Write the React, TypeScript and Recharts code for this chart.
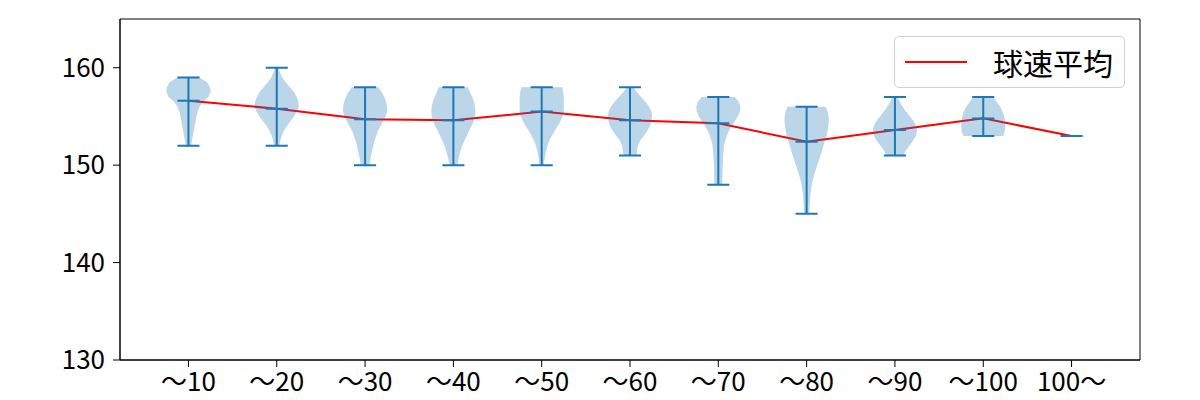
import React from 'react';
import { ComposedChart, XAxis, YAxis, Scatter, Line, Legend, ReferenceArea } from 'recharts';

const FONT = '"Noto Sans CJK JP", "Noto Sans", sans-serif';

const categories = ['～10', '～20', '～30', '～40', '～50', '～60', '～70', '～80', '～90', '～100', '100～'];
const positions = [1, 2, 3, 4, 5, 6, 7, 8, 9, 10, 11];
const meanSpeeds = [156.6, 155.8, 154.7, 154.6, 155.5, 154.6, 154.3, 152.4, 153.6, 154.8, 153.0];
const minSpeeds = [152, 152, 150, 150, 150, 151, 148, 145, 151, 153, 153];
const maxSpeeds = [159, 160, 158, 158, 158, 158, 157, 156, 157, 157, 153];
const yTicks = [130, 140, 150, 160];
const lineName = '球速平均';

// [speed, relative density]
const profile10: [number, number][] = [
  [159, 0.5], [158.5, 0.85], [158, 0.98], [157.5, 1.0], [157, 0.9], [156.5, 0.65], [156, 0.5],
  [155.5, 0.42], [155, 0.36], [154.5, 0.32], [154, 0.28], [153.5, 0.24], [153, 0.2], [152.5, 0.16], [152, 0.12],
];
const profile20: [number, number][] = [
  [160, 0.08], [159.5, 0.15], [159, 0.25], [158.5, 0.4], [158, 0.6], [157.5, 0.78], [157, 0.9], [156.5, 0.98],
  [156, 1.0], [155.5, 0.92], [155, 0.78], [154.5, 0.62], [154, 0.45], [153.5, 0.32], [153, 0.22], [152.5, 0.16], [152, 0.12],
];
const profile30: [number, number][] = [
  [158, 0.6], [157.5, 0.75], [157, 0.87], [156.5, 0.95], [156, 1.0], [155.5, 1.0], [155, 0.93], [154.5, 0.82],
  [154, 0.7], [153.5, 0.58], [153, 0.5], [152.5, 0.43], [152, 0.37], [151.5, 0.32], [151, 0.27], [150.5, 0.23], [150, 0.2],
];
const profile40: [number, number][] = [
  [158, 0.66], [157.5, 0.75], [157, 0.85], [156.5, 0.93], [156, 0.98], [155.5, 1.0], [155, 0.98], [154.5, 0.92],
  [154, 0.82], [153.5, 0.7], [153, 0.6], [152.5, 0.5], [152, 0.4], [151.5, 0.33], [151, 0.27], [150.5, 0.22], [150, 0.18],
];
const profile50: [number, number][] = [
  [158, 0.93], [157.5, 0.97], [157, 1.0], [156.5, 1.0], [156, 1.0], [155.5, 1.0], [155, 0.95], [154.5, 0.85],
  [154, 0.72], [153.5, 0.58], [153, 0.45], [152.5, 0.34], [152, 0.26], [151.5, 0.21], [151, 0.16], [150.5, 0.12], [150, 0.1],
];
const profile60: [number, number][] = [
  [158, 0.15], [157.5, 0.3], [157, 0.5], [156.5, 0.7], [156, 0.87], [155.5, 0.97], [155, 1.0], [154.5, 0.98],
  [154, 0.9], [153.5, 0.78], [153, 0.62], [152.5, 0.45], [152, 0.36], [151.5, 0.32], [151, 0.3],
];
const profile70: [number, number][] = [
  [157, 0.75], [156.5, 0.92], [156, 1.0], [155.5, 0.98], [155, 0.88], [154.5, 0.75], [154, 0.6], [153.5, 0.47],
  [153, 0.38], [152.5, 0.31], [152, 0.26], [151, 0.22], [150, 0.2], [149, 0.19], [148, 0.18],
];
const profile80: [number, number][] = [
  [156, 0.87], [155.5, 0.95], [155, 1.0], [154.5, 1.0], [154, 0.98], [153.5, 0.95], [153, 0.9], [152.5, 0.83],
  [152, 0.76], [151.5, 0.7], [151, 0.63], [150.5, 0.56], [150, 0.48], [149.5, 0.41], [149, 0.34], [148.5, 0.28],
  [148, 0.23], [147.5, 0.2], [147, 0.17], [146, 0.14], [145, 0.12],
];
const profile90: [number, number][] = [
  [157, 0.12], [156.5, 0.22], [156, 0.35], [155.5, 0.5], [155, 0.68], [154.5, 0.85], [154, 0.96], [153.5, 1.0],
  [153, 0.95], [152.5, 0.82], [152, 0.65], [151.5, 0.5], [151, 0.38],
];
const profile100: [number, number][] = [
  [157, 0.45], [156.5, 0.6], [156, 0.77], [155.5, 0.88], [155, 0.95], [154.5, 0.98], [154, 1.0], [153.5, 0.98], [153, 0.9],
];
const profileOver100: [number, number][] = [];

const profiles = [profile10, profile20, profile30, profile40, profile50, profile60, profile70, profile80, profile90, profile100, profileOver100];

const VIOLIN_HALF = 0.25;
const CAP_HALF = 0.125;
const X_DOMAIN: [number, number] = [0.225, 11.775];
const Y_DOMAIN: [number, number] = [130, 165];

function violinPolygon(pos: number, prof: [number, number][]) {
  const asc = prof.slice().sort((a, b) => a[0] - b[0]);
  const right = asc.map(([v, d]) => ({ x: pos + VIOLIN_HALF * d, y: v }));
  const left = asc.slice().reverse().map(([v, d]) => ({ x: pos - VIOLIN_HALF * d, y: v }));
  return [...right, ...left];
}

const segmentData: { x: number; y: number }[] = [];
positions.forEach((p, i) => {
  segmentData.push({ x: p, y: minSpeeds[i] }, { x: p, y: maxSpeeds[i] });
  segmentData.push({ x: p - CAP_HALF, y: minSpeeds[i] }, { x: p + CAP_HALF, y: minSpeeds[i] });
  segmentData.push({ x: p - CAP_HALF, y: maxSpeeds[i] }, { x: p + CAP_HALF, y: maxSpeeds[i] });
  segmentData.push({ x: p - CAP_HALF, y: meanSpeeds[i] }, { x: p + CAP_HALF, y: meanSpeeds[i] });
});

const meanData = positions.map((p, i) => ({ x: p, y: meanSpeeds[i] }));

const noShape = () => <g />;

const polygonLine = (props: any) => {
  const pts = props.points || [];
  if (!pts.length) return <g />;
  const d = pts.map((p: any, i: number) => `${i ? 'L' : 'M'}${p.x},${p.y}`).join('') + 'Z';
  return <path d={d} fill="#1f77b4" fillOpacity={0.3} stroke="none" />;
};

const segmentLine = (props: any) => {
  const pts = props.points || [];
  let d = '';
  for (let i = 0; i + 1 < pts.length; i += 2) {
    d += `M${pts[i].x},${pts[i].y}L${pts[i + 1].x},${pts[i + 1].y}`;
  }
  return <path d={d} stroke="#1f77b4" strokeWidth={2} fill="none" />;
};

const renderLegend = (props: any) => {
  const items = (props.payload || []).filter((p: any) => p.value === lineName);
  return (
    <div
      style={{
        boxSizing: 'border-box',
        width: 231,
        height: 52,
        border: '1px solid #d0d0d0',
        borderRadius: 5,
        background: 'rgba(255,255,255,0.8)',
        display: 'flex',
        alignItems: 'center',
        fontFamily: FONT,
      }}
    >
      {items.map((it: any) => (
        <React.Fragment key={it.value}>
          <svg width={62} height={4} style={{ marginLeft: 10, display: 'block' }}>
            <line x1={0} y1={2} x2={62} y2={2} stroke={it.color || '#ff0000'} strokeWidth={2} />
          </svg>
          <span style={{ marginLeft: 26, fontSize: 30, color: '#000', lineHeight: 1 }}>{it.value}</span>
        </React.Fragment>
      ))}
    </div>
  );
};

export default function App() {
  return (
    <div style={{ width: 1192, height: 392, fontFamily: FONT }}>
      <ComposedChart width={1192} height={392} margin={{ top: 11, right: 60, bottom: 0, left: 0 }}>
        <XAxis
          type="number"
          dataKey="x"
          domain={X_DOMAIN}
          allowDataOverflow
          ticks={positions}
          interval={0}
          tickFormatter={(v: number) => categories[Math.round(v) - 1] ?? ''}
          height={40}
          tickSize={7}
          tickMargin={6}
          stroke="#000"
          tick={{ fontSize: 26, fill: '#000', fontFamily: FONT }}
          tickLine={{ stroke: '#000' }}
        />
        <YAxis
          type="number"
          dataKey="y"
          domain={Y_DOMAIN}
          allowDataOverflow
          ticks={yTicks}
          interval={0}
          width={112}
          tickSize={7}
          tickMargin={8}
          stroke="#000"
          tick={{ fontSize: 26, fill: '#000', fontFamily: FONT }}
          tickLine={{ stroke: '#000' }}
        />
        <ReferenceArea
          x1={X_DOMAIN[0]}
          x2={X_DOMAIN[1]}
          y1={Y_DOMAIN[0]}
          y2={Y_DOMAIN[1]}
          fill="none"
          stroke="#000"
          strokeWidth={1}
          ifOverflow="visible"
        />
        {profiles.map((prof, i) =>
          prof.length ? (
            <Scatter
              key={`v${i}`}
              name={`violin${i}`}
              data={violinPolygon(positions[i], prof)}
              line={polygonLine}
              shape={noShape}
              legendType="none"
              isAnimationActive={false}
            />
          ) : null
        )}
        <Scatter
          name="bars"
          data={segmentData}
          line={segmentLine}
          shape={noShape}
          legendType="none"
          isAnimationActive={false}
        />
        <Line
          name={lineName}
          data={meanData}
          dataKey="y"
          stroke="#ff0000"
          strokeWidth={2}
          dot={false}
          legendType="line"
          isAnimationActive={false}
        />
        <Legend
          layout="horizontal"
          verticalAlign="middle"
          align="center"
          content={renderLegend}
          wrapperStyle={{ top: 28, left: 886, width: 231, height: 52 }}
        />
      </ComposedChart>
    </div>
  );
}
